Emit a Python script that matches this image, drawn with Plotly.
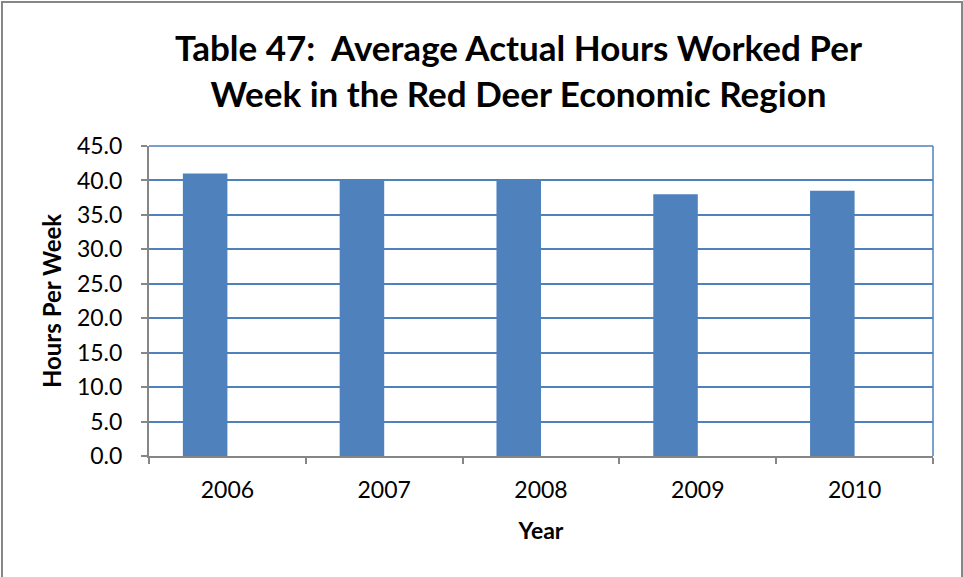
import plotly.graph_objects as go

years = ["2006", "2007", "2008", "2009", "2010"]
hours = [41.0, 40.1, 40.1, 38.0, 38.5]
y_ticks = [0, 5, 10, 15, 20, 25, 30, 35, 40, 45]
y_tick_labels = [f"{v:.1f}" for v in y_ticks]
title_lines = ["Table 47:  Average Actual Hours Worked Per",
               "Week in the Red Deer Economic Region"]

W, H = 963, 577
L, R, T, B = 149, 30, 146, 121
pw, ph = W - L - R, H - T - B

def px_x(x):
    return (x - L) / pw

def px_y(y):
    return (H - B - y) / ph

FONT = "Lato, Carlito, Calibri, sans-serif"
BLUE = "#4F81BD"
GRAY = "#868686"

fig = go.Figure(go.Bar(
    x=years, y=hours, marker=dict(color=BLUE, line=dict(width=0)),
    width=0.284, offset=-0.284,
))

fig.update_layout(
    width=W, height=H,
    margin=dict(l=L, r=R, t=T, b=B),
    paper_bgcolor="white", plot_bgcolor="white",
    showlegend=False,
    font=dict(family=FONT, color="black"),
    xaxis=dict(
        type="category",
        showline=True, linecolor=GRAY, linewidth=2,
        ticks="outside", ticklen=6, tickcolor=GRAY, tickwidth=2,
        tickson="boundaries",
        tickfont=dict(size=23, family=FONT),
        ticklabelstandoff=12,
        showgrid=False,
        title=dict(text="<b>Year</b>", font=dict(size=23, family=FONT), standoff=21),
    ),
    yaxis=dict(
        range=[0, 45],
        tickvals=y_ticks, ticktext=y_tick_labels,
        showline=True, linecolor=GRAY, linewidth=2,
        ticks="outside", ticklen=6, tickcolor=GRAY, tickwidth=2,
        tickfont=dict(size=23, family=FONT),
        ticklabelstandoff=14,
        showgrid=True, gridcolor=BLUE, gridwidth=1.5,
        zeroline=False,
        title=dict(text="<b>Hours Per Week</b>", font=dict(size=24, family=FONT), standoff=9),
    ),
    annotations=[
        dict(text="<b>" + "<br>".join(title_lines) + "</b>",
             xref="paper", yref="paper", x=px_x(518), y=px_y(70),
             xanchor="center", yanchor="middle", showarrow=False,
             font=dict(size=35, family=FONT, color="black")),
    ],
    shapes=[
        dict(type="line", xref="paper", yref="paper", x0=0, x1=1, y0=1, y1=1,
             line=dict(color=BLUE, width=1.5), layer="below"),
        dict(type="line", xref="paper", yref="paper", x0=1, x1=1, y0=0, y1=1,
             line=dict(color=BLUE, width=1.5), layer="below"),
        dict(type="rect", xref="paper", yref="paper",
             x0=px_x(2), x1=px_x(962), y0=px_y(590), y1=px_y(2),
             line=dict(color=GRAY, width=2), fillcolor="rgba(0,0,0,0)"),
    ],
)

fig.write_html("out.html", config={"displayModeBar": False},
               post_script="document.body.style.margin='0';")
